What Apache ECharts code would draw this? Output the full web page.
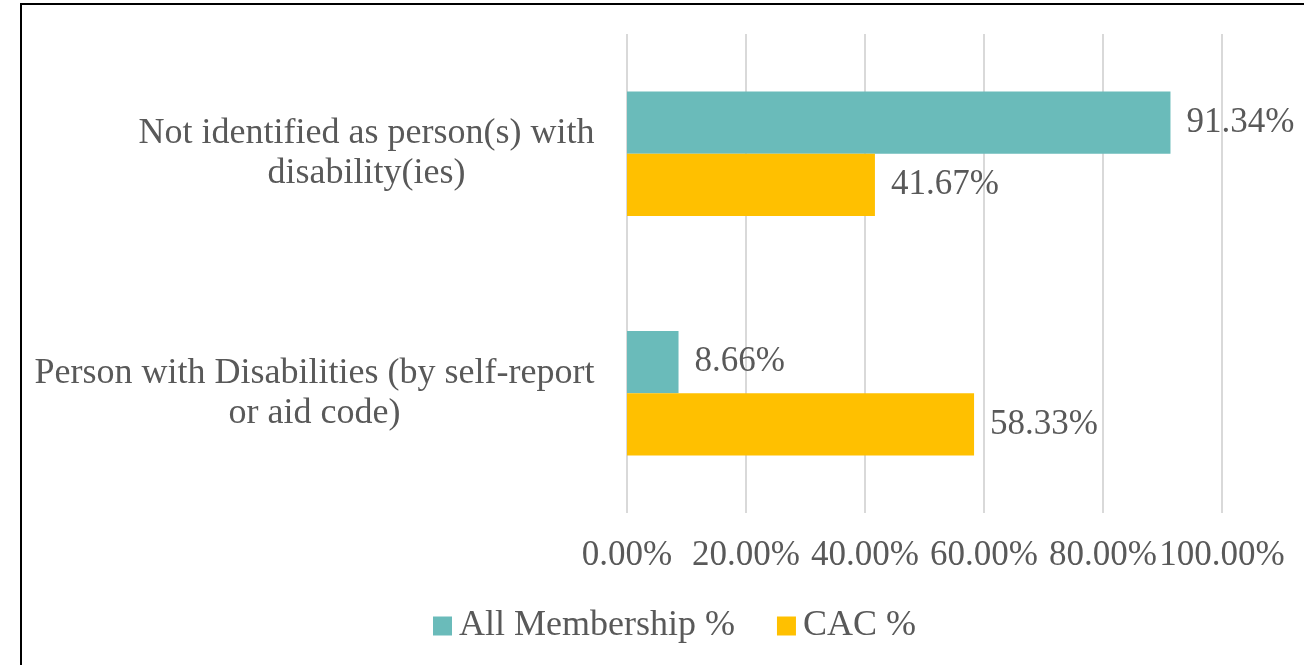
<!DOCTYPE html>
<html>
<head>
<meta charset="utf-8">
<script src="https://cdn.jsdelivr.net/npm/echarts@6/dist/echarts.min.js"></script>
<style>
html,body{margin:0;padding:0;background:#fff;}
#c{width:1304px;height:665px;position:absolute;left:0;top:0;}
#frame{position:absolute;left:20px;top:3px;width:1400px;height:800px;border-left:2px solid #000;border-top:2px solid #000;pointer-events:none;}
</style>
</head>
<body>
<div id="c"></div>
<div id="frame"></div>
<script>
var categories = ["Person with Disabilities (by self-report\nor aid code)", "Not identified as person(s) with\ndisability(ies)"];
var allMembership = [8.66, 91.34];
var cac = [58.33, 41.67];
var seriesNames = ["All Membership %", "CAC %"];
var xTicks = [0, 20, 40, 60, 80, 100];

var FONT = '"Liberation Serif", "Times New Roman", serif';
var FS = 35;
var FSC = 36;
var TXT = '#595959';

var ctx = document.createElement('canvas').getContext('2d');
ctx.font = FSC + 'px ' + FONT;
function widest(s){ return Math.max.apply(null, s.split('\n').map(function(l){return ctx.measureText(l).width;})); }
var rich = {};
categories.forEach(function(c, i){
  rich['c' + i] = {width: Math.ceil(widest(c)) + 1, align: 'center', fontSize: FSC, fontFamily: FONT, color: TXT, lineHeight: 40};
});

function pct(p){ return p.value.toFixed(2) + '%'; }

var chart = echarts.init(document.getElementById('c'), null, {renderer: 'canvas'});
chart.setOption({
  animation: false,
  color: ['#6ABBBA', '#FFC000'],
  grid: {left: 627, right: 82, top: 34, bottom: 152, containLabel: false},
  legend: {
    data: seriesNames,
    left: 433, top: 608, padding: 0,
    itemWidth: 19, itemHeight: 19, itemGap: 42,
    icon: 'rect',
    textStyle: {fontFamily: FONT, fontSize: FSC, color: TXT, padding: [0, 0, 0, 2]}
  },
  xAxis: {
    type: 'value', min: xTicks[0], max: xTicks[xTicks.length - 1], interval: xTicks[1] - xTicks[0],
    axisLine: {show: false}, axisTick: {show: false},
    splitLine: {show: true, lineStyle: {color: '#D9D9D9', width: 2}},
    axisLabel: {margin: 25, fontFamily: FONT, fontSize: FS, color: TXT,
      formatter: function(v){ return v.toFixed(2) + '%'; }}
  },
  yAxis: {
    type: 'category', data: categories,
    axisLine: {show: false}, axisTick: {show: false},
    axisLabel: {margin: 32, formatter: function(v, i){ return '{c' + i + '|' + v + '}'; }, rich: rich}
  },
  series: [
    {name: seriesNames[0], type: 'bar', data: allMembership, barGap: '0%', barCategoryGap: '48%',
     label: {show: true, position: 'right', distance: 16, fontFamily: FONT, fontSize: FS, color: TXT, formatter: pct}},
    {name: seriesNames[1], type: 'bar', data: cac, barGap: '0%', barCategoryGap: '48%',
     label: {show: true, position: 'right', distance: 16, fontFamily: FONT, fontSize: FS, color: TXT, formatter: pct}}
  ]
});
</script>
</body>
</html>
